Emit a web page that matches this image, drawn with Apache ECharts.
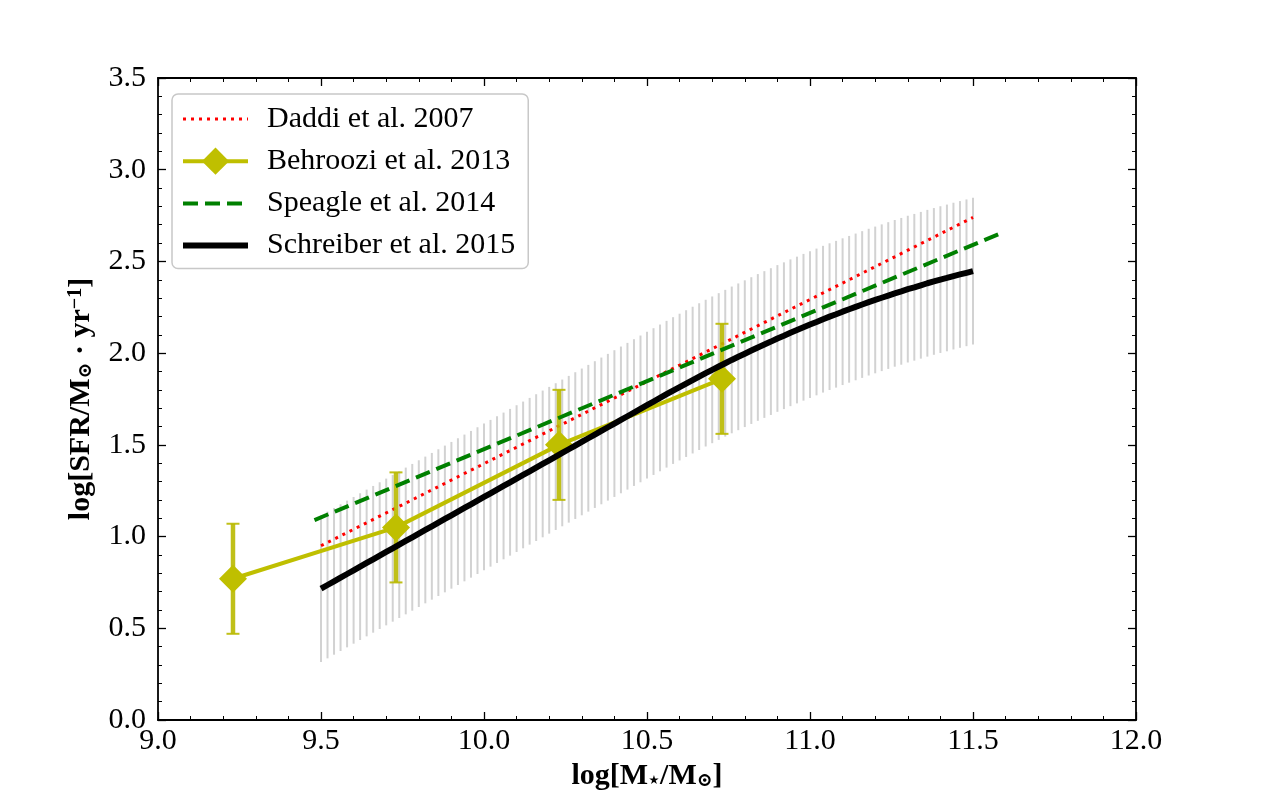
<!DOCTYPE html>
<html>
<head>
<meta charset="utf-8">
<title>SFR main sequence</title>
<script src="https://cdn.jsdelivr.net/npm/echarts@6/dist/echarts.min.js"></script>
<style>
	html, body { margin: 0; padding: 0; background: #fff; }
	#main { width: 1264px; height: 799px; }
</style>
</head>
<body>
<div id="main"></div>
<script>
// mass grid of the Schreiber relation (also the positions of the grey scatter bars)
var schreiberMass = [
	9.50, 9.52, 9.54, 9.56, 9.58, 9.60, 9.62, 9.64, 9.66, 9.68,
	9.70, 9.72, 9.74, 9.76, 9.78, 9.80, 9.82, 9.84, 9.86, 9.88,
	9.90, 9.92, 9.94, 9.96, 9.98, 10.00, 10.02, 10.04, 10.06, 10.08,
	10.10, 10.12, 10.14, 10.16, 10.18, 10.20, 10.22, 10.24, 10.26, 10.28,
	10.30, 10.32, 10.34, 10.36, 10.38, 10.40, 10.42, 10.44, 10.46, 10.48,
	10.50, 10.52, 10.54, 10.56, 10.58, 10.60, 10.62, 10.64, 10.66, 10.68,
	10.70, 10.72, 10.74, 10.76, 10.78, 10.80, 10.82, 10.84, 10.86, 10.88,
	10.90, 10.92, 10.94, 10.96, 10.98, 11.00, 11.02, 11.04, 11.06, 11.08,
	11.10, 11.12, 11.14, 11.16, 11.18, 11.20, 11.22, 11.24, 11.26, 11.28,
	11.30, 11.32, 11.34, 11.36, 11.38, 11.40, 11.42, 11.44, 11.46, 11.48,
	11.50
];
var schreiberSfr = [
	0.716, 0.736, 0.756, 0.776, 0.796, 0.816, 0.836, 0.856, 0.876, 0.896,
	0.916, 0.936, 0.956, 0.976, 0.996, 1.016, 1.036, 1.056, 1.076, 1.096,
	1.116, 1.136, 1.156, 1.176, 1.196, 1.216, 1.236, 1.256, 1.276, 1.296,
	1.316, 1.336, 1.356, 1.376, 1.396, 1.416, 1.436, 1.456, 1.476, 1.496,
	1.516, 1.536, 1.556, 1.576, 1.596, 1.616, 1.636, 1.656, 1.676, 1.696,
	1.716, 1.736, 1.756, 1.776, 1.796, 1.815, 1.834, 1.853, 1.872, 1.891,
	1.909, 1.927, 1.945, 1.963, 1.980, 1.997, 2.014, 2.031, 2.047, 2.063,
	2.080, 2.095, 2.111, 2.126, 2.141, 2.156, 2.170, 2.185, 2.199, 2.212,
	2.226, 2.239, 2.252, 2.265, 2.278, 2.290, 2.302, 2.314, 2.326, 2.337,
	2.349, 2.359, 2.370, 2.381, 2.391, 2.401, 2.410, 2.420, 2.429, 2.438,
	2.447
];
// scatter of the relation (dex), drawn as grey bars
var schreiberScatter = 0.4;

var daddiMass = [9.5, 11.5];
var daddiSfr = [0.95, 2.74];

var speagleMass = [9.48, 11.58];
var speagleSfr = [1.09, 2.65];

var behrooziMass = [9.23, 9.73, 10.23, 10.73];
var behrooziSfr = [0.77, 1.05, 1.50, 1.86];
var behrooziLow = [0.47, 0.75, 1.20, 1.56];
var behrooziHigh = [1.07, 1.35, 1.80, 2.16];

var xTicks = { min: 9.0, max: 12.0, interval: 0.5 };
var yTicks = { min: 0.0, max: 3.5, interval: 0.5 };

var FONT = "'Liberation Serif', 'DejaVu Serif', serif";

function pairs(xs, ys) {
	var res = [];
	for (var i = 0; i < xs.length; i++) {
		res.push([xs[i], ys[i]]);
	}
	return res;
}

var bandData = [];
for (var i = 0; i < schreiberMass.length; i++) {
	bandData.push([schreiberMass[i], schreiberSfr[i] - schreiberScatter, schreiberSfr[i] + schreiberScatter]);
}
var errData = [];
for (var j = 0; j < behrooziMass.length; j++) {
	errData.push([behrooziMass[j], behrooziLow[j], behrooziHigh[j]]);
}

function axisCommon(showLabel) {
	return {
		axisLine: { show: true, onZero: false, lineStyle: { color: '#000', width: 1.8 } },
		axisTick: { show: true, inside: true, length: 8, lineStyle: { color: '#000', width: 1.3 } },
		minorTick: { show: true, splitNumber: 5, length: 4, lineStyle: { color: '#000', width: 1 } },
		splitLine: { show: false },
		minorSplitLine: { show: false },
		axisLabel: {
			show: showLabel,
			color: '#000',
			fontFamily: FONT,
			fontSize: 30,
			formatter: function (v) { return v.toFixed(1); }
		}
	};
}

var xBottom = Object.assign({ type: 'value', position: 'bottom' }, xTicks, axisCommon(true));
xBottom.axisLabel.margin = 6;
xBottom.name = '{b|log[M}{s|⋆}{b|/M}{s|⊙}{b|]}';
xBottom.nameLocation = 'middle';
xBottom.nameGap = 40;
xBottom.nameTextStyle = {
	color: '#000',
	fontFamily: FONT,
	fontSize: 30,
	fontWeight: 'bold',
	rich: {
		b: { fontFamily: FONT, fontSize: 30, fontWeight: 'bold', color: '#000' },
		s: { fontFamily: FONT, fontSize: 19, color: '#000', verticalAlign: 'bottom' }
	}
};
var xTop = Object.assign({ type: 'value', position: 'top' }, xTicks, axisCommon(false));

var yLeft = Object.assign({ type: 'value', position: 'left' }, yTicks, axisCommon(true));
yLeft.axisLabel.margin = 12;
yLeft.name = '{b|log[SFR/M}{s|⊙}{b| · yr}{p|−1}{b|]}';
yLeft.nameLocation = 'middle';
yLeft.nameGap = 62;
yLeft.nameTextStyle = {
	color: '#000',
	fontFamily: FONT,
	fontSize: 30,
	fontWeight: 'bold',
	rich: {
		b: { fontFamily: FONT, fontSize: 30, fontWeight: 'bold', color: '#000' },
		s: { fontFamily: FONT, fontSize: 19, color: '#000', verticalAlign: 'bottom' },
		p: { fontFamily: FONT, fontSize: 20, fontWeight: 'bold', color: '#000', verticalAlign: 'top' }
	}
};
var yRight = Object.assign({ type: 'value', position: 'right' }, yTicks, axisCommon(false));

var chart = echarts.init(document.getElementById('main'), null, { renderer: 'canvas' });
chart.setOption({
	animation: false,
	backgroundColor: '#fff',
	grid: { left: 158, right: 128, top: 78, bottom: 79, containLabel: false },
	xAxis: [xBottom, xTop],
	yAxis: [yLeft, yRight],
	legend: {
		orient: 'vertical',
		left: 172,
		top: 94,
		padding: [10, 13, 8, 8],
		itemWidth: 65,
		itemHeight: 34,
		itemGap: 12.2,
		backgroundColor: 'rgba(255,255,255,0.9)',
		borderColor: '#c8c8c8',
		borderWidth: 1.5,
		borderRadius: 6,
		textStyle: { fontFamily: FONT, fontSize: 30, color: '#000', padding: [0, 0, 0, 14] },
		data: [
			{ name: 'Daddi et al. 2007', itemStyle: { opacity: 0 }, lineStyle: { width: 3 } },
			{ name: 'Behroozi et al. 2013', lineStyle: { width: 4 } },
			{ name: 'Speagle et al. 2014', itemStyle: { opacity: 0 }, lineStyle: { width: 4 } },
			{ name: 'Schreiber et al. 2015', itemStyle: { opacity: 0 }, lineStyle: { width: 6 } }
		]
	},
	series: [
		{
			// grey scatter bars around the Schreiber relation
			name: 'scatter',
			type: 'custom',
			z: 1,
			silent: true,
			renderItem: function (params, api) {
				var lo = api.coord([api.value(0), api.value(1)]);
				var hi = api.coord([api.value(0), api.value(2)]);
				return {
					type: 'line',
					shape: { x1: lo[0], y1: lo[1], x2: hi[0], y2: hi[1] },
					style: { stroke: '#d2d2d2', lineWidth: 2 }
				};
			},
			encode: { x: 0, y: [1, 2] },
			data: bandData
		},
		{
			name: 'Daddi et al. 2007',
			type: 'line',
			z: 2,
			symbol: 'none',
			lineStyle: { color: '#ff0000', width: 3, type: [3, 5], cap: 'butt' },
			itemStyle: { color: '#ff0000' },
			data: pairs(daddiMass, daddiSfr)
		},
		{
			name: 'Behroozi et al. 2013',
			type: 'line',
			z: 3,
			symbol: 'diamond',
			symbolSize: 28,
			lineStyle: { color: '#bfbf00', width: 4 },
			itemStyle: { color: '#bfbf00' },
			data: pairs(behrooziMass, behrooziSfr)
		},
		{
			name: 'Behroozi et al. 2013',
			type: 'custom',
			z: 3,
			silent: true,
			renderItem: function (params, api) {
				var lo = api.coord([api.value(0), api.value(1)]);
				var hi = api.coord([api.value(0), api.value(2)]);
				var col = 'rgba(185,185,0,0.9)';
				return {
					type: 'group',
					children: [
						{ type: 'line', shape: { x1: lo[0], y1: lo[1], x2: hi[0], y2: hi[1] }, style: { stroke: col, lineWidth: 4.5 } },
						{ type: 'line', shape: { x1: lo[0] - 6.5, y1: lo[1], x2: lo[0] + 6.5, y2: lo[1] }, style: { stroke: col, lineWidth: 2 } },
						{ type: 'line', shape: { x1: hi[0] - 6.5, y1: hi[1], x2: hi[0] + 6.5, y2: hi[1] }, style: { stroke: col, lineWidth: 2 } }
					]
				};
			},
			encode: { x: 0, y: [1, 2] },
			data: errData
		},
		{
			name: 'Speagle et al. 2014',
			type: 'line',
			z: 4,
			symbol: 'none',
			lineStyle: { color: '#008000', width: 4, type: [15, 7], cap: 'butt' },
			itemStyle: { color: '#008000' },
			data: pairs(speagleMass, speagleSfr)
		},
		{
			name: 'Schreiber et al. 2015',
			type: 'line',
			z: 5,
			symbol: 'none',
			lineStyle: { color: '#000000', width: 6 },
			itemStyle: { color: '#000000' },
			data: pairs(schreiberMass, schreiberSfr)
		}
	]
});
</script>
</body>
</html>
